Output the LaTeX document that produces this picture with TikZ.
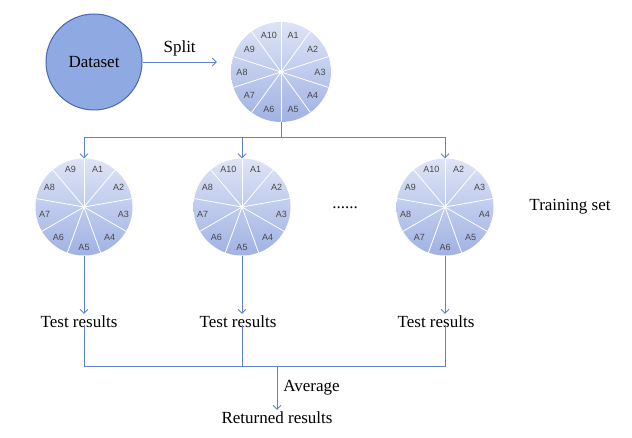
\documentclass[tikz,border=0pt]{standalone}
\usepackage{fontspec}
\usetikzlibrary{arrows.meta}
\setmainfont{Liberation Serif}
\newfontfamily\slicefont{Liberation Sans}
\definecolor{linkblue}{RGB}{92,130,210}
\definecolor{datafill}{RGB}{143,170,226}
\definecolor{dataedge}{RGB}{72,104,176}
\definecolor{pietop}{RGB}{222,228,246}
\definecolor{piebot}{RGB}{160,178,228}
\definecolor{slicetext}{RGB}{72,72,72}

\begin{document}
\begin{tikzpicture}[x=1pt, y=-1pt, thin, >={Straight Barb[length=4pt, width=8pt]},
  big/.style = {font=\fontsize{17}{20}\selectfont, inner sep=2pt},
  pie/.style = {circle, inner sep=0pt, minimum size=#1, top color=pietop, bottom color=piebot},
  piece/.style = {font=\slicefont\fontsize{9}{11}\selectfont, text=slicetext, inner sep=0pt},
  link/.style = {draw=linkblue, line width=0.8pt}]
\useasboundingbox (0,0) rectangle (632,438);

% dataset and the ten folds
\node[circle, fill=datafill, draw=dataedge, line width=1pt, minimum size=96pt, big] (data) at (94,62) {Dataset};
\node[pie=100pt] (p0) at (281,72) {};
\foreach \i in {1,...,10} {
  \draw[white, line width=0.8pt] (p0.center) -- (p0.{90-36*(\i-1)});
  \node[piece] at ([shift={(90-36*\i+18:39pt)}]p0.center) {A\i};
}
\draw[link, ->] (data.east) -- ([xshift=-14pt]p0.west |- data.east) node[midway, above=3pt, big, text=black] (split) {Split};

% training rounds
\node[pie=97pt] (p1) at (84,207) {};
\node[pie=97pt] (p2) at (242,207) {};
\node[pie=97pt] (p3) at (445,207) {};
\foreach \p/\names in {p1/{A1,A2,A3,A4,A5,A6,A7,A8,A9},
                       p2/{A1,A2,A3,A4,A5,A6,A7,A8,A10},
                       p3/{A2,A3,A4,A5,A6,A7,A8,A9,A10}} {
  \foreach \n [count=\k] in \names {
    \draw[white, line width=0.8pt] (\p.center) -- (\p.{90-40*(\k-1)});
    \node[piece] at ([shift={(90-40*\k+20:40pt)}]\p.center) {\n};
  }
}
\node[big] (dots) at (345,208) {......};
\node[big] (train) at (570,207) {Training set};

\coordinate (top) at (281,137);
\draw[link] (p0) -- (top);
\draw[link, ->] (top) -| (p1);
\draw[link, ->] (top) -| (p2);
\draw[link, ->] (top) -| (p3);

% test results and average
\node[big] (t1) at (79,322) {Test results};
\node[big] (t2) at (238,322) {Test results};
\node[big] (t3) at (436,322) {Test results};
\draw[link, ->] (p1) -- (p1 |- t1.north);
\draw[link, ->] (p2) -- (p2 |- t2.north);
\draw[link, ->] (p3) -- (p3 |- t3.north);

\coordinate (bot) at (277,366);
\node[big] (ret) at (277,418) {Returned results};
\draw[link] ([yshift=5pt]p1 |- t1.south) -- (p1 |- bot) -- (p3 |- bot) -- ([yshift=5pt]p3 |- t3.south);
\draw[link] ([yshift=5pt]p2 |- t2.south) -- (p2 |- bot);
\draw[link, ->] (bot) -- (ret.north) node[midway, right=4pt, big] (avg) {Average};
\end{tikzpicture}
\end{document}
